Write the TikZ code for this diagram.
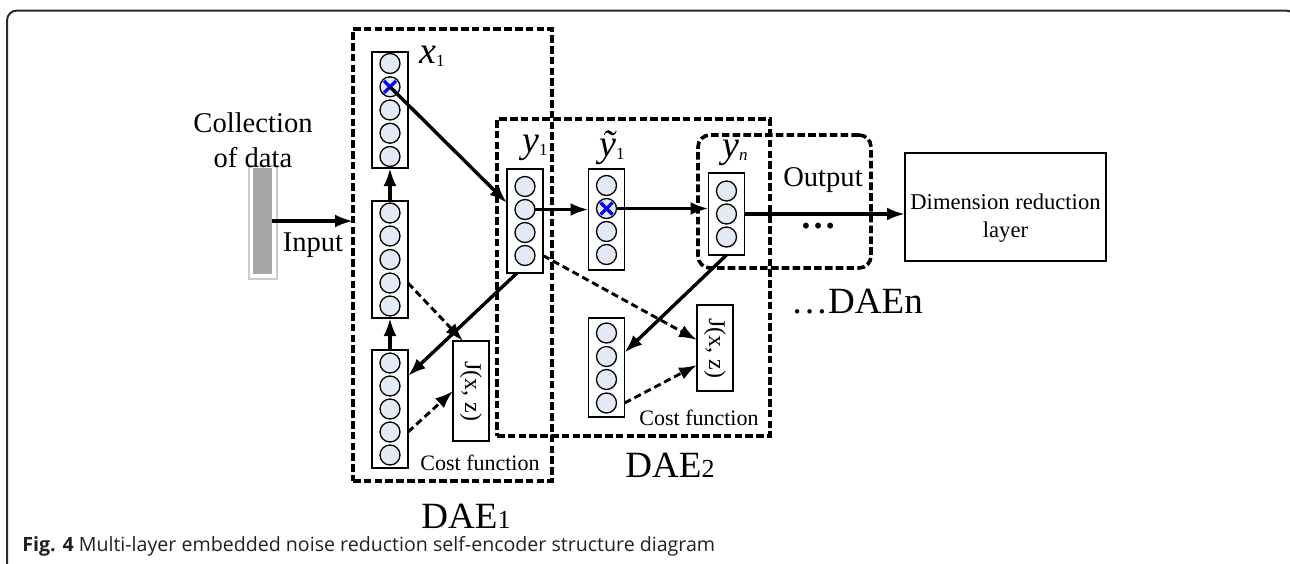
\documentclass[tikz,border=0pt]{standalone}
\usepackage{fontspec}
\setmainfont{Liberation Serif}
\newfontfamily\capfont{Open Sans}
\usetikzlibrary{arrows.meta,calc}
\definecolor{cellfill}{HTML}{E3EAF6}
\definecolor{barfill}{HTML}{A6A6A6}
\definecolor{barline}{HTML}{CCCCCC}
\definecolor{framecol}{HTML}{2B2B2B}
\definecolor{capcol}{HTML}{231F20}
\newcommand\mylab[2]{{\fontsize{19}{19}\selectfont\itshape #1}\raisebox{-0.3ex}{\fontsize{8.5}{8.5}\selectfont #2}}
\tikzset{
  dbox/.style={draw, line width=1.8pt, dash pattern=on 3.8pt off 1.6pt, inner sep=0pt, outer sep=0pt},
  colbox/.style={draw, line width=0.8pt, fill=white, minimum width=18pt, inner sep=0pt, outer sep=0pt},
  cell/.style={circle, draw, line width=0.65pt, fill=cellfill, minimum size=10pt, inner sep=0pt, outer sep=0pt},
  arr/.style={line width=1.7pt, -{Latex[length=9pt,width=6.5pt]}},
  darr/.style={line width=1.45pt, dash pattern=on 3.6pt off 2pt, -{Latex[length=9pt,width=6.5pt]}},
  xcross/.style={draw=blue, line width=1.6pt},
  bigtxt/.style={font=\fontsize{14.3}{17.5}\selectfont, inner sep=0pt},
  daetxt/.style={font=\fontsize{18.5}{20}\selectfont, inner sep=0pt},
  costtxt/.style={font=\fontsize{11}{12}\selectfont, inner sep=0pt},
  jtxt/.style={font=\fontsize{12}{12}\selectfont, inner sep=0pt, rotate=-90},
}
\begin{document}
\begin{tikzpicture}[x=0.5pt,y=-0.5pt]
\useasboundingbox (0,0) rectangle (1290,563);
\clip (0,0) rectangle (1290,563);
\draw[framecol, line width=1pt, rounded corners=5pt] (7,10.5) rectangle (1296,620);

% dashed containers
\node[dbox, minimum width=99.5pt, minimum height=226pt] (dae1) at (452.5,255) {};
\node[dbox, minimum width=136.5pt, minimum height=158.5pt] (dae2) at (633.5,277.5) {};
\node[dbox, rounded corners=6pt, minimum width=86.5pt, minimum height=66.5pt] (outbox) at (784.5,201.5) {};

% data bar
\node[draw=barline, line width=0.6pt, minimum width=14pt, minimum height=56.5pt, inner sep=0pt, outer sep=0pt] (barout) at (263,222.5) {};
\node[fill=barfill, minimum width=9.5pt, minimum height=53pt, inner sep=0pt, outer sep=0pt] (bar) at (262.5,221) {};

% columns
\node[colbox, minimum height=58pt] (c1) at (390,110) {};
\foreach \i/\yy in {1/63.5,2/86.8,3/110,4/133.2,5/156.5} \node[cell] (c1n\i) at (390,\yy) {};
\node[colbox, minimum height=58.5pt] (c2) at (390,259.5) {};
\foreach \i/\yy in {1/213,2/236,3/259.5,4/283,5/306} \node[cell] (c2n\i) at (390,\yy) {};
\node[colbox, minimum height=59pt] (c3) at (390,409) {};
\foreach \i/\yy in {1/363,2/386,3/409,4/432,5/455} \node[cell] (c3n\i) at (390,\yy) {};
\node[colbox, minimum height=52pt] (c4) at (525,221) {};
\foreach \i/\yy in {1/186.5,2/209.5,3/232.5,4/255.5} \node[cell] (c4n\i) at (525,\yy) {};
\node[colbox, minimum height=50.5pt] (c5) at (606.5,219.5) {};
\foreach \i/\yy in {1/185.5,2/208.5,3/231.5,4/254.5} \node[cell] (c5n\i) at (606.5,\yy) {};
\node[colbox, minimum height=41pt] (c6) at (726.5,214) {};
\foreach \i/\yy in {1/191,2/214,3/237} \node[cell] (c6n\i) at (726.5,\yy) {};
\node[colbox, minimum height=49.5pt] (c7) at (606.5,367.5) {};
\foreach \i/\yy in {1/333,2/356.5,3/379.5,4/403} \node[cell] (c7n\i) at (606.5,\yy) {};

% crosses
\foreach \n in {c1n2,c5n2}
  \draw[xcross] ($(\n)+(-6,-6)$) -- ($(\n)+(6,6)$) ($(\n)+(-6,6)$) -- ($(\n)+(6,-6)$);

% cost boxes
\node[colbox, minimum height=50pt] (J1) at (471,391) {};
\node[jtxt] (J1t) at (J1) {J(x, z)};
\node[colbox, minimum height=43pt] (J2) at (715,348) {};
\node[jtxt] (J2t) at (J2) {J(x, z)};

% dimension reduction
\node[draw, line width=0.9pt, minimum width=100.5pt, minimum height=54pt, inner sep=0pt, outer sep=0pt] (dim) at (1005.5,207) {};
\node[align=center, font=\fontsize{11.3}{14}\selectfont, inner sep=0pt] (dimt) at (1005.5,218) {Dimension reduction\\layer};

% labels
\node[bigtxt, align=center] (coll) at (253,140) {Collection\\of data};
\node[bigtxt] (inp) at (313,245) {Input};
\node[bigtxt] (outp) at (823,180) {Output};
\node[font=\fontsize{18}{18}\selectfont\bfseries, inner sep=0pt] (dots) at (818,226) {…};
\node[daetxt] (daen) at (857,302) {…DAEn};
\node[daetxt] (dae1t) at (466,516) {DAE{\fontsize{13}{13}\selectfont 1}};
\node[daetxt] (dae2t) at (670,465) {DAE{\fontsize{13}{13}\selectfont 2}};
\node[costtxt] (cost1) at (480,463) {Cost function};
\node[costtxt] (cost2) at (699,418) {Cost function};
\node[inner sep=0pt] (lx1) at (432,56) {\mylab{x}{1}};
\node[inner sep=0pt] (ly1) at (535,148) {\mylab{y}{1}};
\node[inner sep=0pt] (lyt1) at (612,148) {\mylab{ỹ}{1}};
\node[inner sep=0pt] (lyn) at (735,153) {\mylab{y}{\itshape n}};

% connectors
\draw[arr] (bar.east) -- (bar.east -| dae1.west);
\draw[arr] (c2.north) -- (c1.south);
\draw[arr] (c3.north) -- (c2.south);
\draw[arr] (c1n2.center) -- ($(c4.west)+(0,-18)$);
\draw[arr] ($(c4.south)+(-8,0)$) -- ($(c3.east)+(0,-33)$);
\draw[arr] (c4n2.east) -- (c4n2.east -| c5.west);
\draw[arr] (c5n2.east) -- (c5n2.east -| c6.west);
\draw[arr] (c6n2 -| c6.east) -- (c6n2 -| dim.west);
\draw[arr] (c6.south) -- ($(c7.east)+(0,-15)$);
\draw[darr] (c2n4 -| c2.east) -- ($(J1.north)+(-8,0)$);
\draw[darr] (c3n4 -| c3.east) -- (J1.west);
\draw[darr] (c4n4 -| c4.east) -- ($(J2.west)+(0,-8)$);
\draw[darr] (c7n4 -| c7.east) -- ($(J2.west)+(0,17)$);

% caption
\node[anchor=west, font=\capfont\fontsize{9.8}{11}\selectfont, text=capcol, inner sep=0pt] (cap) at (22,546) {\textbf{Fig. 4} Multi-layer embedded noise reduction self-encoder structure diagram};
\end{tikzpicture}
\end{document}
